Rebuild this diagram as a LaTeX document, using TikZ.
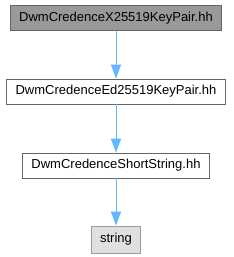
\documentclass[tikz,border=0pt]{standalone}
\usepackage{fontspec}
\setmainfont{Liberation Sans}
\usetikzlibrary{arrows.meta}
\definecolor{edgeblue}{HTML}{63B8FF}
\definecolor{boxline}{HTML}{666666}
\definecolor{curfill}{HTML}{999999}
\definecolor{extfill}{HTML}{E0E0E0}
\definecolor{extline}{HTML}{999999}
\begin{document}
\begin{tikzpicture}[x=1pt,y=-1pt,
    filebox/.style={draw=boxline,line width=0.8pt,fill=white,inner xsep=9pt,
        minimum height=25pt,font=\fontsize{13}{15}\selectfont},
    current/.style={filebox,fill=curfill},
    external/.style={filebox,draw=extline,fill=extfill,minimum height=27pt},
    dep/.style={edgeblue,line width=0.8pt,-{Triangle[length=14pt,width=10pt]}}]
        \useasboundingbox (0,0) rectangle (233,257);

        \node[current]  (x25519) at (116,18)  {DwmCredenceX25519KeyPair.hh};
        \node[filebox]  (ed25519) at (116,91.5) {DwmCredenceEd25519KeyPair.hh};
        \node[filebox]  (short) at (116,165.5) {DwmCredenceShortString.hh};
        \node[external] (string) at (116,239.5) {string};

        \draw[dep] (x25519) -- (ed25519);
        \draw[dep] (ed25519) -- (short);
        \draw[dep] (short) -- (string);
    \end{tikzpicture}
\end{document}
